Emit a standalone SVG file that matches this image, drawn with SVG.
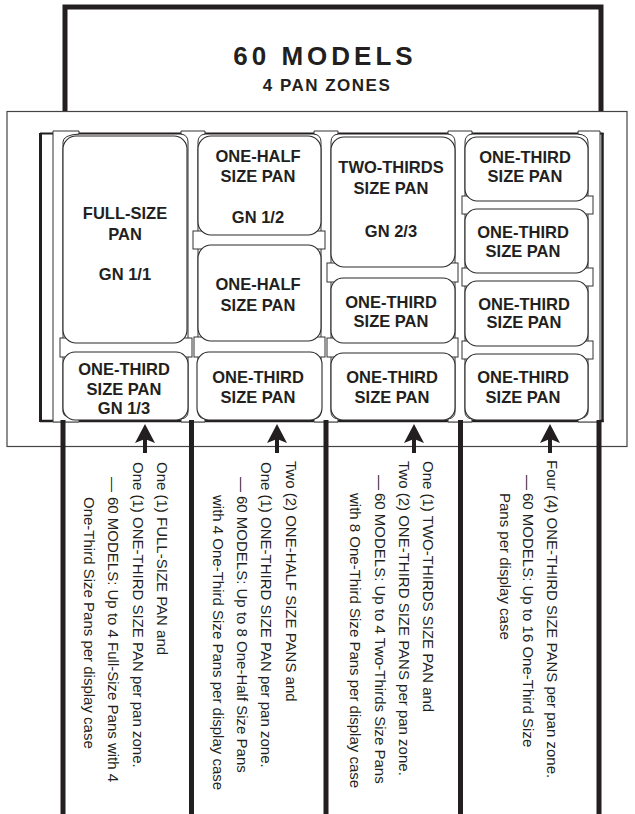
<svg xmlns="http://www.w3.org/2000/svg" width="635" height="814" viewBox="0 0 635 814">
<defs>
<style>
.t{font-family:"Liberation Sans",Arial,Helvetica,sans-serif;fill:#231f20}
.pl{font-size:16.5px;font-weight:bold;text-anchor:middle}
.note{font-size:15px}
.pan{fill:#fff;stroke:#2b2b2b;stroke-width:1.1}
.rail{fill:#fff;stroke:#333;stroke-width:1}
.div{fill:#fff;stroke:#333;stroke-width:1}
.thick{stroke:#231f20;stroke-width:5;fill:none}
.frame{stroke:#231f20;fill:none}
.arrow{fill:#231f20}
</style>
</defs>
<rect width="635" height="814" fill="#fff"/>

<g id="header">
<path class="thick" d="M65,112 V7 H601 V112"/>
<text class="t" x="325" y="65" font-size="26" font-weight="bold" letter-spacing="4" text-anchor="middle">60 MODELS</text>
<text class="t" x="327" y="90.5" font-size="17" font-weight="bold" letter-spacing="1.5" text-anchor="middle">4 PAN ZONES</text>
</g>

<g id="outer-box">
<rect x="7" y="111.5" width="620" height="335" fill="none" stroke="#444" stroke-width="1.2"/>
</g>

<g id="case">
<line class="frame" x1="40.5" y1="133" x2="40.5" y2="422" stroke-width="3"/>
<line class="frame" x1="40" y1="133.5" x2="603.5" y2="133.5" stroke-width="2"/>
<line class="frame" x1="602.5" y1="133" x2="602.5" y2="422" stroke-width="2.5"/>
<line class="frame" x1="40" y1="421" x2="603.5" y2="421" stroke-width="2.5"/>
<path class="div" d="M53,131 H79 V134 Q63,135 63,142 V412 Q63,418 79,419 V422 H53 Z"/>
<path class="div" d="M181,131 H205 V134 Q198,135 198,142 V412 Q198,418 205,419 V422 H181 V419 Q188,418 188,412 V142 Q188,135 181,134 Z"/>
<path class="div" d="M314,131 H338 V134 Q331,135 331,142 V412 Q331,418 338,419 V422 H314 V419 Q321,418 321,412 V142 Q321,135 314,134 Z"/>
<path class="div" d="M448,131 H472 V134 Q465,135 465,142 V412 Q465,418 472,419 V422 H448 V419 Q455,418 455,412 V142 Q455,135 448,134 Z"/>
<path class="div" d="M578,131 H600 V422 H578 V419 Q588,418 588,412 V142 Q588,135 578,134 Z"/>
</g>

<g id="rails">
<rect class="rail" x="60" y="338" width="132" height="19"/>
<rect class="rail" x="193" y="231" width="132" height="18"/>
<rect class="rail" x="194" y="337" width="131" height="20"/>
<rect class="rail" x="327" y="263" width="131" height="19"/>
<rect class="rail" x="327" y="338" width="131" height="19"/>
<rect class="rail" x="462" y="196" width="131" height="18"/>
<rect class="rail" x="462" y="268" width="131" height="18"/>
<rect class="rail" x="462" y="341" width="131" height="18"/>
</g>

<g id="zone1">
<g id="pan-full">
<rect class="pan" x="63" y="136" width="124" height="207" rx="13"/>
<text class="t pl" x="125" y="219">FULL-SIZE</text>
<text class="t pl" x="125" y="240">PAN</text>
<text class="t pl" x="125" y="280">GN 1/1</text>
</g>
<g id="pan-z1-third">
<rect class="pan" x="63" y="352" width="125" height="68" rx="12"/>
<text class="t pl" x="124" y="375">ONE-THIRD</text>
<text class="t pl" x="124" y="395">SIZE PAN</text>
<text class="t pl" x="124" y="413.5">GN 1/3</text>
</g>
</g>

<g id="zone2">
<g id="pan-z2-half1">
<rect class="pan" x="198" y="136" width="123" height="99" rx="13"/>
<text class="t pl" x="258" y="162">ONE-HALF</text>
<text class="t pl" x="258" y="182">SIZE PAN</text>
<text class="t pl" x="258" y="223">GN 1/2</text>
</g>
<g id="pan-z2-half2">
<rect class="pan" x="198" y="245" width="123" height="96" rx="13"/>
<text class="t pl" x="258" y="290">ONE-HALF</text>
<text class="t pl" x="258" y="311">SIZE PAN</text>
</g>
<g id="pan-z2-third">
<rect class="pan" x="197" y="352" width="125" height="68" rx="12"/>
<text class="t pl" x="258" y="383">ONE-THIRD</text>
<text class="t pl" x="258" y="403">SIZE PAN</text>
</g>
</g>

<g id="zone3">
<g id="pan-z3-twothirds">
<rect class="pan" x="331" y="137" width="124" height="130" rx="13"/>
<text class="t pl" x="391" y="173">TWO-THIRDS</text>
<text class="t pl" x="391" y="194">SIZE PAN</text>
<text class="t pl" x="391" y="237">GN 2/3</text>
</g>
<g id="pan-z3-third1">
<rect class="pan" x="331" y="278" width="124" height="65" rx="12"/>
<text class="t pl" x="391" y="308">ONE-THIRD</text>
<text class="t pl" x="391" y="327">SIZE PAN</text>
</g>
<g id="pan-z3-third2">
<rect class="pan" x="331" y="353" width="124" height="67" rx="12"/>
<text class="t pl" x="392" y="383">ONE-THIRD</text>
<text class="t pl" x="392" y="403">SIZE PAN</text>
</g>
</g>

<g id="zone4">
<g id="pan-z4-1">
<rect class="pan" x="465" y="137" width="123" height="64" rx="12"/>
<text class="t pl" x="525" y="163">ONE-THIRD</text>
<text class="t pl" x="525" y="182">SIZE PAN</text>
</g>
<g id="pan-z4-2">
<rect class="pan" x="465" y="209" width="123" height="64" rx="12"/>
<text class="t pl" x="523" y="238">ONE-THIRD</text>
<text class="t pl" x="523" y="257">SIZE PAN</text>
</g>
<g id="pan-z4-3">
<rect class="pan" x="465" y="281" width="123" height="65" rx="12"/>
<text class="t pl" x="524" y="310">ONE-THIRD</text>
<text class="t pl" x="524" y="328">SIZE PAN</text>
</g>
<g id="pan-z4-4">
<rect class="pan" x="465" y="354" width="123" height="66" rx="12"/>
<text class="t pl" x="523" y="383">ONE-THIRD</text>
<text class="t pl" x="523" y="403">SIZE PAN</text>
</g>
</g>

<g id="zone-lines">
<line class="thick" x1="63" y1="420" x2="63" y2="814" stroke-width="4.5"/>
<line class="thick" x1="191.5" y1="420" x2="191.5" y2="814"/>
<line class="thick" x1="326" y1="420" x2="326" y2="814"/>
<line class="thick" x1="460.5" y1="420" x2="460.5" y2="814"/>
<line class="thick" x1="599" y1="420" x2="599" y2="814"/>
</g>

<g id="connectors">
<g id="arrow1"><rect class="arrow" x="143" y="436" width="4" height="17"/><path class="arrow" d="M145,424 L155,443 L145,439 L135,443 Z"/></g>
<g id="arrow2"><rect class="arrow" x="275" y="436" width="4" height="17"/><path class="arrow" d="M277,424 L287,443 L277,439 L267,443 Z"/></g>
<g id="arrow3"><rect class="arrow" x="412" y="436" width="4" height="17"/><path class="arrow" d="M414,424 L424,443 L414,439 L404,443 Z"/></g>
<g id="arrow4"><rect class="arrow" x="548" y="436" width="4" height="17"/><path class="arrow" d="M550,424 L560,443 L550,439 L540,443 Z"/></g>
</g>

<g id="note1">
<text class="t note" transform="translate(157,462) rotate(90)">One (1) FULL-SIZE PAN and</text>
<text class="t note" transform="translate(132.5,462) rotate(90)">One (1) ONE-THIRD SIZE PAN per pan zone.</text>
<text class="t note" transform="translate(108,477) rotate(90)">—<tspan x="20">60 MODELS: Up to 4 Full-Size Pans with 4</tspan></text>
<text class="t note" transform="translate(83.5,497) rotate(90)">One-Third Size Pans per display case</text>
</g>
<g id="note2">
<text class="t note" transform="translate(285.5,461) rotate(90)">Two (2) ONE-HALF SIZE PANS and</text>
<text class="t note" transform="translate(261,462) rotate(90)">One (1) ONE-THIRD SIZE PAN per pan zone.</text>
<text class="t note" transform="translate(237,477) rotate(90)">—<tspan x="19">60 MODELS: Up to 8 One-Half Size Pans</tspan></text>
<text class="t note" transform="translate(213,495) rotate(90)">with 4 One-Third Size Pans per display case</text>
</g>
<g id="note3">
<text class="t note" transform="translate(423,461) rotate(90)">One (1) TWO-THIRDS SIZE PAN and</text>
<text class="t note" transform="translate(398.5,461) rotate(90)">Two (2) ONE-THIRD SIZE PANS per pan zone.</text>
<text class="t note" transform="translate(375,475) rotate(90)">—<tspan x="18">60 MODELS: Up to 4 Two-Thirds Size Pans</tspan></text>
<text class="t note" transform="translate(350,493) rotate(90)">with 8 One-Third Size Pans per display case</text>
</g>
<g id="note4">
<text class="t note" transform="translate(547,460) rotate(90)">Four (4) ONE-THIRD SIZE PANS per pan zone.</text>
<text class="t note" transform="translate(523,475) rotate(90)">—<tspan x="18">60 MODELS: Up to 16 One-Third Size</tspan></text>
<text class="t note" transform="translate(500,493) rotate(90)">Pans per display case</text>
</g>
</svg>
